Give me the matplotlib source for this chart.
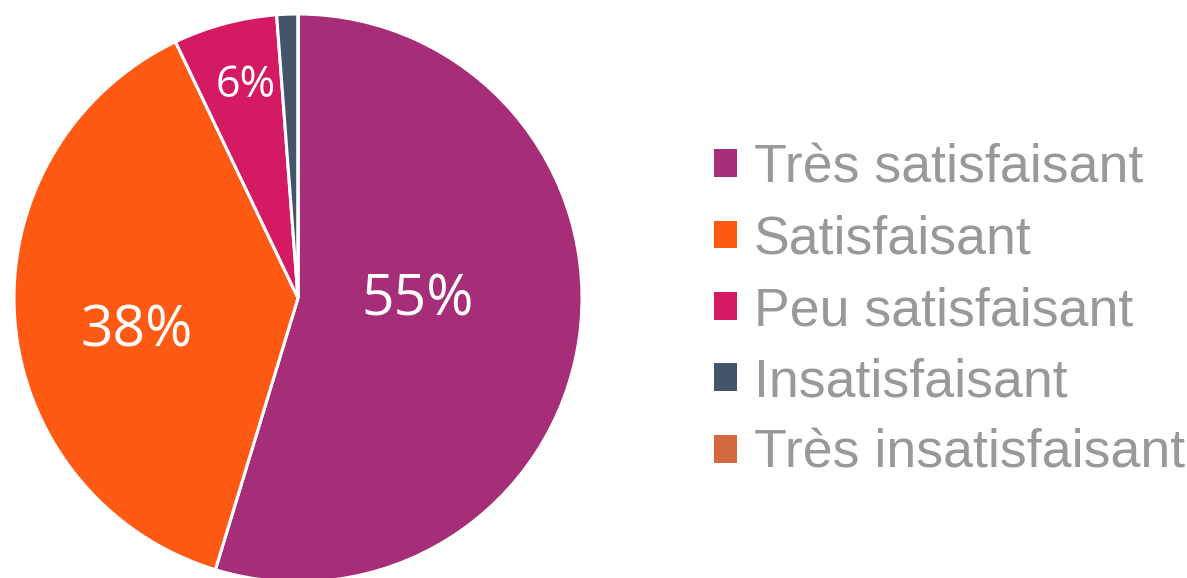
import numpy as np
import matplotlib.pyplot as plt
from matplotlib.patches import Patch

categories = ["Très satisfaisant", "Satisfaisant", "Peu satisfaisant",
              "Insatisfaisant", "Très insatisfaisant"]
values = [54.7, 38.2, 5.9, 1.2, 0.0]
shown = ["55%", "38%", "6%", "", ""]
colors = ["#A62D77", "#FF5A14", "#D41A62", "#44546A", "#D4693F"]
# label placement per slice: distance (fraction of radius), angle shift (deg), size
label_r = [0.42, 0.58, 0.77, 0.7, 0.7]
label_shift = [7.0, 7.5, -1.0, 0.0, 0.0]
label_size = [41, 41, 31, 20, 20]

fig = plt.figure(figsize=(11.87, 5.78), dpi=100)
ax = fig.add_axes([14 / 1187, -4 / 578, 568 / 1187, 568 / 578])

wedges, _ = ax.pie(values, colors=colors, startangle=90, counterclock=False,
                   radius=1, wedgeprops=dict(edgecolor="white", linewidth=2.2))
ax.set_xlim(-1, 1)
ax.set_ylim(-1, 1)
ax.set_aspect("equal")
ax.axis("off")

for w, txt, r, sh, fs in zip(wedges, shown, label_r, label_shift, label_size):
    if not txt:
        continue
    mid = np.deg2rad((w.theta1 + w.theta2) / 2 + sh)
    ax.text(r * np.cos(mid), r * np.sin(mid), txt, color="white",
            fontsize=fs, family="Open Sans", ha="center", va="center")

handles = [Patch(facecolor=c, edgecolor="none") for c in colors]
leg = fig.legend(handles, categories, loc="center left",
                 bbox_to_anchor=(714 / 1187, 267 / 578), frameon=False,
                 prop=dict(family="Liberation Sans", size=38.6),
                 handlelength=0.42, handleheight=0.42, handletextpad=0.32,
                 labelspacing=0.40, borderpad=0, borderaxespad=0)
for t in leg.get_texts():
    t.set_color("#999999")

fig.savefig("out.png", dpi=100)
